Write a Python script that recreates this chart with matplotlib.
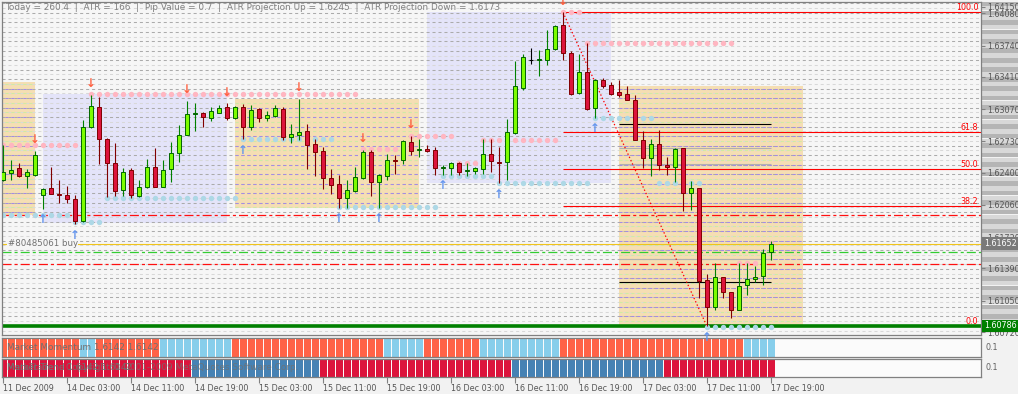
import matplotlib
matplotlib.use("Agg")
import matplotlib.pyplot as plt
import matplotlib.transforms as mtransforms
from matplotlib.patches import Rectangle
import numpy as np

plt.rcParams["lines.scale_dashes"] = False
plt.rcParams["font.family"] = ["DejaVu Sans"]

# H1 candles, 11 Dec 2009 19:00 .. 17 Dec 2009 19:00
opens = [1.6232, 1.6240, 1.6245, 1.6236, 1.6238, 1.6216, 1.6224, 1.6218, 1.6216, 1.6212,
         1.6189, 1.6288, 1.6309, 1.6275, 1.6250, 1.6222, 1.6243, 1.6215, 1.6225, 1.6246,
         1.6225, 1.6244, 1.6261, 1.6280, 1.6302, 1.6303, 1.6298, 1.6303, 1.6309, 1.6298,
         1.6309, 1.6288, 1.6307, 1.6298, 1.6300, 1.6307, 1.6278, 1.6280, 1.6284, 1.6270,
         1.6263, 1.6234, 1.6228, 1.6213, 1.6221, 1.6234, 1.6262, 1.6230, 1.6237, 1.6253,
         1.6253, 1.6272, 1.6264, 1.6265, 1.6264, 1.6245, 1.6245, 1.6250, 1.6242, 1.6242,
         1.6244, 1.6260, 1.6251, 1.6251, 1.6282, 1.6329, 1.6359, 1.6359, 1.6359, 1.6370,
         1.6396, 1.6366, 1.6324, 1.6346, 1.6308, 1.6338, 1.6332, 1.6325, 1.6323, 1.6317,
         1.6274, 1.6255, 1.6270, 1.6248, 1.6246, 1.6266, 1.6219, 1.6224, 1.6127, 1.6098,
         1.6130, 1.6114, 1.6095, 1.6122, 1.6128, 1.6131, 1.6156]
highs = [1.6269, 1.6253, 1.6250, 1.6244, 1.6263, 1.6224, 1.6246, 1.6232, 1.6226, 1.6216,
         1.6296, 1.6322, 1.6320, 1.6277, 1.6271, 1.6245, 1.6245, 1.6232, 1.6254, 1.6266,
         1.6253, 1.6272, 1.6290, 1.6316, 1.6313, 1.6304, 1.6309, 1.6311, 1.6313, 1.6310,
         1.6312, 1.6311, 1.6308, 1.6305, 1.6311, 1.6309, 1.6291, 1.6318, 1.6291, 1.6276,
         1.6267, 1.6244, 1.6238, 1.6232, 1.6246, 1.6264, 1.6264, 1.6239, 1.6260, 1.6259,
         1.6274, 1.6279, 1.6275, 1.6269, 1.6267, 1.6248, 1.6251, 1.6251, 1.6250, 1.6246,
         1.6275, 1.6275, 1.6267, 1.6297, 1.6358, 1.6365, 1.6371, 1.6369, 1.6390, 1.6396,
         1.6409, 1.6368, 1.6365, 1.6377, 1.6339, 1.6340, 1.6336, 1.6338, 1.6331, 1.6322,
         1.6284, 1.6276, 1.6285, 1.6256, 1.6266, 1.6266, 1.6231, 1.6224, 1.6133, 1.6145,
         1.6130, 1.6114, 1.6145, 1.6145, 1.6142, 1.6160, 1.6168]
lows = [1.6231, 1.6232, 1.6235, 1.6224, 1.6237, 1.6202, 1.6218, 1.6208, 1.6208, 1.6186,
        1.6188, 1.6287, 1.6249, 1.6214, 1.6215, 1.6215, 1.6213, 1.6214, 1.6224, 1.6225,
        1.6225, 1.6230, 1.6251, 1.6280, 1.6284, 1.6288, 1.6294, 1.6303, 1.6296, 1.6297,
        1.6275, 1.6285, 1.6293, 1.6294, 1.6299, 1.6274, 1.6271, 1.6274, 1.6244, 1.6236,
        1.6223, 1.6218, 1.6203, 1.6203, 1.6220, 1.6233, 1.6215, 1.6203, 1.6232, 1.6239,
        1.6249, 1.6259, 1.6257, 1.6262, 1.6238, 1.6238, 1.6238, 1.6238, 1.6236, 1.6239,
        1.6239, 1.6241, 1.6229, 1.6232, 1.6281, 1.6327, 1.6355, 1.6342, 1.6354, 1.6369,
        1.6359, 1.6322, 1.6323, 1.6306, 1.6298, 1.6329, 1.6322, 1.6320, 1.6317, 1.6274,
        1.6245, 1.6237, 1.6243, 1.6238, 1.6230, 1.6200, 1.6201, 1.6108, 1.6078, 1.6095,
        1.6108, 1.6087, 1.6095, 1.6111, 1.6125, 1.6122, 1.6148]
closes = [1.6241, 1.6243, 1.6237, 1.6241, 1.6259, 1.6223, 1.6218, 1.6216, 1.6212, 1.6189,
          1.6288, 1.6310, 1.6275, 1.6250, 1.6221, 1.6241, 1.6216, 1.6225, 1.6246, 1.6225,
          1.6243, 1.6261, 1.6280, 1.6302, 1.6303, 1.6299, 1.6305, 1.6308, 1.6298, 1.6309,
          1.6288, 1.6306, 1.6298, 1.6301, 1.6308, 1.6278, 1.6281, 1.6283, 1.6269, 1.6262,
          1.6234, 1.6227, 1.6213, 1.6222, 1.6235, 1.6262, 1.6230, 1.6238, 1.6253, 1.6252,
          1.6273, 1.6263, 1.6265, 1.6263, 1.6245, 1.6246, 1.6250, 1.6241, 1.6243, 1.6245,
          1.6260, 1.6252, 1.6250, 1.6283, 1.6331, 1.6362, 1.6359, 1.6360, 1.6370, 1.6395,
          1.6366, 1.6323, 1.6346, 1.6307, 1.6338, 1.6331, 1.6323, 1.6322, 1.6317, 1.6274,
          1.6255, 1.6270, 1.6248, 1.6246, 1.6265, 1.6219, 1.6224, 1.6126, 1.6098, 1.6130,
          1.6114, 1.6095, 1.6121, 1.6128, 1.6130, 1.6155, 1.6165]

date_labels = ["11 Dec 2009", "14 Dec 03:00", "14 Dec 11:00", "14 Dec 19:00",
               "15 Dec 03:00", "15 Dec 11:00", "15 Dec 19:00", "16 Dec 03:00",
               "16 Dec 11:00", "16 Dec 19:00", "17 Dec 03:00", "17 Dec 11:00",
               "17 Dec 19:00"]
price_ticks = [1.6415, 1.6408, 1.6374, 1.6341, 1.6307, 1.6273, 1.6240,
               1.6206, 1.6172, 1.6139, 1.6105, 1.6072]

# session range boxes
box_start = [-4, 5, 29, 53, 77]
box_end = [4, 28, 52, 76, 100]
box_high = [1.6336, 1.6323, 1.6318, 1.6409, 1.6331]
box_low = [1.6195, 1.6187, 1.6203, 1.6229, 1.6077]
box_kind = ["o", "l", "o", "l", "o"]

# fractal levels (dotted)
res_start = [0, 11, 45, 51, 57, 60, 70, 73, 92, 96]
res_end = [9, 44, 49, 56, 59, 69, 72, 91, 94, 96]
res_price = [1.6269, 1.6323, 1.6265, 1.6279, 1.6250, 1.6274, 1.6409, 1.6377, 1.6145, 1.6166]
sup_start = [0, 9, 13, 30, 42, 55, 62, 74, 82, 88]
sup_end = [8, 12, 29, 41, 54, 61, 73, 81, 87, 96]
sup_price = [1.6195, 1.6188, 1.6213, 1.6275, 1.6204, 1.6237, 1.6229, 1.6298, 1.6229, 1.6077]

up_fractals = [4, 11, 23, 28, 37, 45, 51, 70]
down_fractals = [5, 9, 30, 42, 47, 55, 62, 74, 88]

bid = 1.61652
order_price = 1.61561
red_levels = [1.61954, 1.61438]
stop_level = 1.60786
fib_high, fib_low = 1.6409, 1.6078
fib_bar_high, fib_bar_low = 70, 88
fib_levels = [0.0, 38.2, 50.0, 61.8, 100.0]
proj_black = [1.6291, 1.6125]
proj_gray = [1.6266, 1.6249, 1.6149]
proj_from, proj_to = 77, 96

# indicator windows: run lengths of each colour state
mom_state = [0, 1, 0, 1, 0, 1, 0, 1, 0, 1]
mom_len = [10, 2, 8, 9, 19, 5, 7, 10, 23, 4]
trend_state = [0, 1, 0, 1, 0]
trend_len = [24, 16, 24, 19, 14]

header = ("Today = 260.4  |  ATR = 166  |  Pip Value = 0.7  |  "
          "ATR Projection Up = 1.6245  |  ATR Projection Down = 1.6173")

W, H = 1018.0, 394.0
def place(x0, y0, x1, y1):
    return [x0 / W, 1 - y1 / H, (x1 - x0) / W, (y1 - y0) / H]

fig = plt.figure(figsize=(10.18, 3.94), dpi=100, facecolor="#f2f2f2")
lab = fig.add_axes(place(982, 2, 1018, 335))
ax = fig.add_axes(place(2, 2, 981, 335))
p1 = fig.add_axes(place(2, 338, 981, 357))
p2 = fig.add_axes(place(2, 359, 981, 377))
lab.set_zorder(0)
ax.set_zorder(1)

xmin, xmax = -0.125, 122.25
ymin, ymax = 1.60689, 1.64199
for a in (ax, p1, p2):
    a.set_xlim(xmin, xmax)
    for s in a.spines.values():
        s.set_color("#808080")
        s.set_linewidth(0.9)
ax.set_ylim(ymin, ymax)
lab.set_ylim(ymin, ymax)
lab.set_xlim(0, 1)
lab.axis("off")
ax.set_facecolor("#f6f6f6")
p1.set_facecolor("#fbfbfb")
p2.set_facecolor("#fbfbfb")

# grid levels every 5 pips, alternating dark / light
grid = np.round(1.60735 + 0.0005 * np.arange(70), 5)
dark = np.arange(70) % 2 == 1
dash = (0, (2.2, 2.1))
ax.hlines(grid[dark], xmin, xmax, colors="#ababab", lw=0.75, linestyles=[dash], zorder=1)
ax.hlines(grid[~dark], xmin, xmax, colors="#d8d8d8", lw=0.75, linestyles=[dash], zorder=1)
lab.barh(grid[dark], 1, height=0.00048, color="#b5b5b5", zorder=1)
lab.barh(grid[~dark], 1, height=0.00048, color="#d8d8d8", zorder=1)

# session boxes
for s, e, hi, lo, k in zip(box_start, box_end, box_high, box_low, box_kind):
    fc = "#f5deb3" if k == "o" else "#e4e4f9"
    ax.add_patch(Rectangle((s, lo), e - s, hi - lo, facecolor=fc, edgecolor="none", zorder=0.5))
    if k == "o":
        inside = (grid > lo) & (grid < hi)
        ax.hlines(grid[inside & dark], s, e, colors="#a48be6", lw=0.75, linestyles=[dash], zorder=1.1)
        ax.hlines(grid[inside & ~dark], s, e, colors="#cfeba2", lw=0.75, linestyles=[dash], zorder=1.1)

# horizontal objects
dashdot = (0, (6.5, 2.2, 2.2, 2.2))
ax.axhline(bid, color="#f0c419", lw=0.8, zorder=2)
ax.axhline(order_price, color="#32cd32", lw=0.9, ls=dashdot, zorder=2)
for lv in red_levels:
    ax.axhline(lv, color="#ff1010", lw=0.9, ls=dashdot, zorder=2)
ax.axhline(stop_level, color="#008000", lw=2.6, zorder=2.2)
ax.hlines(proj_black, proj_from, proj_to, colors="black", lw=0.8, zorder=2)
ax.hlines(proj_gray, proj_from, proj_to, colors="#b0b0b0", lw=0.8, zorder=2)

# fibonacci
for lv in fib_levels:
    p = fib_low + (fib_high - fib_low) * lv / 100.0
    ax.hlines(p, fib_bar_high, xmax, colors="red", lw=0.8, zorder=2)
    ax.text(121.9, p, f"{lv:.1f}", ha="right", va="bottom", color="red",
            fontsize=5.8, zorder=5)
ax.plot([fib_bar_high, fib_bar_low], [fib_high, fib_low], color="red", lw=0.9,
        ls=(0, (1.0, 1.6)), zorder=2.4)

# fractal dots
for s, e, p in zip(res_start, res_end, res_price):
    xs = np.arange(s, e + 1)
    ax.scatter(xs, np.full(len(xs), p), s=15, color="#ffb6c1", lw=0, zorder=2.5)
for s, e, p in zip(sup_start, sup_end, sup_price):
    xs = np.arange(s, e + 1)
    ax.scatter(xs, np.full(len(xs), p), s=15, color="#add8e6", lw=0, zorder=2.5)

# candles
o, h, l, c = (np.array(v) for v in (opens, highs, lows, closes))
x = np.arange(len(o))
up, dn, fl = c > o, c < o, c == o
ax.vlines(x[up], l[up], h[up], colors="#008000", lw=0.8, zorder=3)
ax.vlines(x[dn], l[dn], h[dn], colors="#800000", lw=0.8, zorder=3)
ax.vlines(x[fl], l[fl], h[fl], colors="black", lw=0.8, zorder=3)
ax.bar(x[up], (c - o)[up], bottom=o[up], width=0.62, color="#7cfc00",
       edgecolor="#006400", lw=0.7, zorder=3.1)
ax.bar(x[dn], (o - c)[dn], bottom=c[dn], width=0.62, color="#dc143c",
       edgecolor="#800000", lw=0.7, zorder=3.1)
ax.hlines(o[fl], x[fl] - 0.31, x[fl] + 0.31, colors="black", lw=0.8, zorder=3.1)

# fractal arrows
for i in up_fractals:
    ax.annotate("\u2193", (i, highs[i]), xytext=(0, 8), textcoords="offset points",
                ha="center", va="center", color="#ff6040", fontsize=8.5,
                fontweight="bold", zorder=4, annotation_clip=False)
for i in down_fractals:
    ax.annotate("\u2191", (i, lows[i]), xytext=(0, -8), textcoords="offset points",
                ha="center", va="center", color="#6495ed", fontsize=8.5,
                fontweight="bold", zorder=4, annotation_clip=False)

ax.text(0.6, bid, "#80485061 buy", ha="left", va="center", fontsize=6.2,
        color="#707070", zorder=4,
        bbox=dict(facecolor="#f6f6f6", edgecolor="none", pad=0.4))
fig.text(5 / W, 1 - 8 / H, header, ha="left", va="center", fontsize=6.4, color="#808080")

# price axis
ax.yaxis.tick_right()
ax.set_yticks(price_ticks)
ax.set_yticklabels([f"{t:.5f}" for t in price_ticks])
ax.set_xticks([])
ax.tick_params(axis="y", length=3, width=0.8, colors="#808080", labelsize=5.8,
               labelcolor="#555555", pad=1.5)
ytr = mtransforms.blended_transform_factory(fig.transFigure, ax.transData)
fig.text(984 / W, bid, f"{bid:.5f}", transform=ytr, ha="left", va="center",
         fontsize=5.8, color="white",
         bbox=dict(facecolor="#7a7a7a", edgecolor="none", pad=1.2))
fig.text(984 / W, stop_level, f"{stop_level:.5f}", transform=ytr, ha="left",
         va="center", fontsize=5.8, color="white",
         bbox=dict(facecolor="#008000", edgecolor="none", pad=1.2))

# indicator windows
def blocks(a, states, lengths, colors):
    start = 0
    for st, n in zip(states, lengths):
        xs = np.arange(start, start + n)
        a.bar(xs, 1, bottom=0, width=0.875, color=colors[st], lw=0, zorder=1)
        start += n
    a.set_ylim(0, 1)
    a.set_yticks([])

blocks(p1, mom_state, mom_len, ["#ff6347", "#87ceeb"])
blocks(p2, trend_state, trend_len, ["#dc143c", "#4682b4"])
p1.set_xticks([])
p1.text(0.5, 0.5, "Market Momentum 1.6142 1.6142", ha="left", va="center",
        fontsize=6.4, color="#707070", zorder=3)
p2.text(0.5, 0.5, "Market Trend 1.6142 1.6142", ha="left", va="center",
        fontsize=6.4, color="#707070", zorder=3)
p2.text(0.5, 0.5, "MetaTrader - Copyright \u00a9 2001-2009 MetaQuotes Software Corp.",
        ha="left", va="center", fontsize=6.4, color="#707070", alpha=0.8, zorder=3)
for a in (p1, p2):
    bb = a.get_position()
    fig.text(985 / W, (bb.y0 + bb.y1) / 2, "0.1", ha="left", va="center",
             fontsize=5.8, color="#606060")

p2.set_xticks(range(0, 97, 8))
p2.set_xticklabels(date_labels, ha="left")
p2.tick_params(axis="x", length=4, width=0.8, colors="#808080", labelsize=5.8,
               labelcolor="#555555", pad=1)

fig.savefig("out.png", dpi=100, facecolor=fig.get_facecolor())
